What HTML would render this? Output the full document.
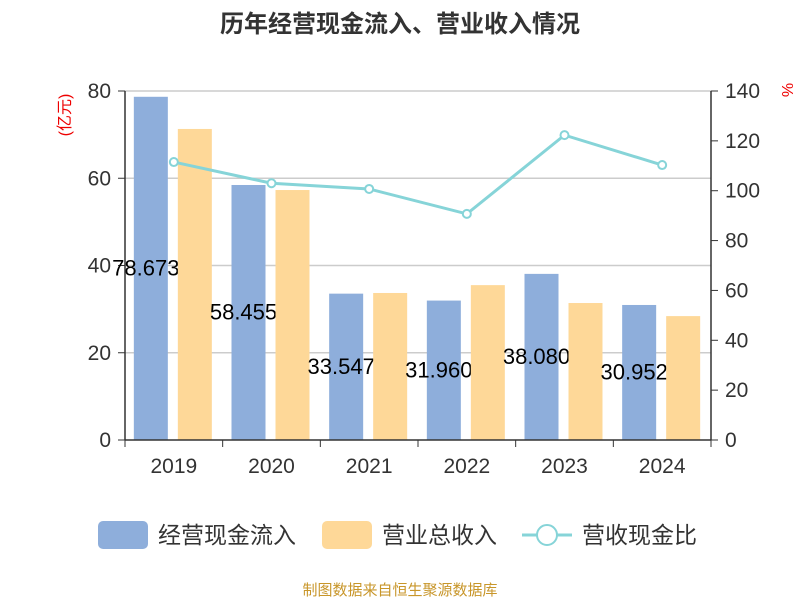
<!DOCTYPE html>
<html><head><meta charset="utf-8"><style>
body{margin:0;background:#fff;width:800px;height:600px;overflow:hidden;font-family:"Liberation Sans","Noto Sans CJK SC",sans-serif}
</style></head><body>
<svg id="c" width="800" height="600" xmlns="http://www.w3.org/2000/svg"></svg>
<script>
const categories=["2019","2020","2021","2022","2023","2024"];
const cashIn=[78.673,58.455,33.547,31.960,38.080,30.952];
const cashLabels=["78.673","58.455","33.547","31.960","38.080","30.952"];
const revenue=[71.3,57.3,33.7,35.5,31.4,28.4];
const ratio=[111.5,103,100.7,90.7,122.3,110.3];
const leftTicks=[0,20,40,60,80];
const rightTicks=[0,20,40,60,80,100,120,140];
const svg=document.getElementById('c');const NS="http://www.w3.org/2000/svg";
const X0=125,X1=711,Y0=440,Y1=91;
const yL=v=>Y0-(v/80)*(Y0-Y1);
const yR=v=>Y0-(v/140)*(Y0-Y1);
const band=(X1-X0)/categories.length;
const xC=i=>X0+band*(i+0.5);
function el(t,a,name,txt){const e=document.createElementNS(NS,t);for(const k in a)e.setAttribute(k,a[k]);


if(txt!==undefined)e.textContent=txt;svg.appendChild(e);return e;}
const F='"Liberation Sans","Noto Sans CJK SC",sans-serif';
el('text',{x:400,y:32,'text-anchor':'middle','font-size':24,'font-weight':'bold',fill:'#333','font-family':F},'chart-title','历年经营现金流入、营业收入情况');
leftTicks.forEach(v=>{if(v>0)el('line',{x1:X0,x2:X1,y1:yL(v),y2:yL(v),stroke:'#ccc','stroke-width':1.5},'gridline');
el('line',{x1:X0-7,x2:X0,y1:yL(v),y2:yL(v),stroke:'#333'},'left-tick');
el('text',{x:X0-14,y:yL(v)+7,'text-anchor':'end','font-size':21,fill:'#333','font-family':F},'left-tick-label',v);});
rightTicks.forEach(v=>{el('line',{x1:X1,x2:X1+7,y1:yR(v),y2:yR(v),stroke:'#333'},'right-tick');
el('text',{x:X1+14,y:yR(v)+7,'font-size':21,fill:'#333','font-family':F},'right-tick-label',v);});
el('text',{x:70,y:115,'font-size':16,fill:'#e00','font-family':F,transform:'rotate(-90 70 115)','text-anchor':'middle'},'left-axis-unit','(亿元)');
el('text',{x:782,y:90,'font-size':16,fill:'#e00','font-family':F,transform:'rotate(90 782 90)','text-anchor':'middle'},'right-axis-unit','%');
categories.forEach((c,i)=>{
el('rect',{x:xC(i)-40,y:yL(cashIn[i]),width:34,height:Y0-yL(cashIn[i]),fill:'#8eaedb'},'bar-cash-in-'+c);
el('text',{x:xC(i)-28,y:(yL(cashIn[i])+Y0)/2+7,'text-anchor':'middle','font-size':22,fill:'#000','font-family':F},'value-label-'+c,cashLabels[i]);
el('rect',{x:xC(i)+4,y:yL(revenue[i]),width:34,height:Y0-yL(revenue[i]),fill:'#fed898'},'bar-revenue-'+c);
el('line',{x1:X0+band*i,x2:X0+band*i,y1:Y0,y2:Y0+7,stroke:'#333'},'x-tick');
el('text',{x:xC(i),y:Y0+33,'text-anchor':'middle','font-size':21,fill:'#333','font-family':F},'x-tick-label',c);});
el('line',{x1:X1,x2:X1,y1:Y0,y2:Y0+7,stroke:'#333'},'x-tick');
el('line',{x1:X0,x2:X0,y1:Y1,y2:Y0,stroke:'#333','stroke-width':1.5},'left-axis');
el('line',{x1:X1,x2:X1,y1:Y1,y2:Y0,stroke:'#333','stroke-width':1.5},'right-axis');
el('line',{x1:X0,x2:X1,y1:Y0,y2:Y0,stroke:'#333','stroke-width':1.5},'x-axis');
el('polyline',{points:ratio.map((v,i)=>xC(i)+','+yR(v)).join(' '),fill:'none',stroke:'#86d4d8','stroke-width':3},'line-ratio');
ratio.forEach((v,i)=>el('circle',{cx:xC(i),cy:yR(v),r:4,fill:'#fff',stroke:'#86d4d8','stroke-width':2},'point-ratio-'+categories[i]));
el('rect',{x:98,y:521,width:50,height:28,rx:5,fill:'#8eaedb'},'legend-swatch-cash-in');
el('text',{x:158,y:543,'font-size':23,fill:'#333','font-family':F},'legend-label-cash-in','经营现金流入');
el('rect',{x:322,y:521,width:50,height:28,rx:5,fill:'#fed898'},'legend-swatch-revenue');
el('text',{x:382,y:543,'font-size':23,fill:'#333','font-family':F},'legend-label-revenue','营业总收入');
el('line',{x1:522,x2:572,y1:535,y2:535,stroke:'#86d4d8','stroke-width':3},'legend-swatch-ratio-line');
el('circle',{cx:547,cy:535,r:10,fill:'#fff',stroke:'#86d4d8','stroke-width':2},'legend-swatch-ratio-point');
el('text',{x:582,y:543,'font-size':23,fill:'#333','font-family':F},'legend-label-ratio','营收现金比');
el('text',{x:400,y:595,'text-anchor':'middle','font-size':15,fill:'#c8962a','font-family':F},'source-note','制图数据来自恒生聚源数据库');
</script></body></html>
